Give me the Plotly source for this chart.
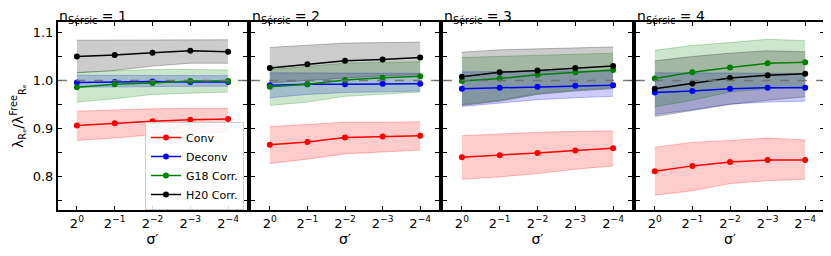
import plotly.graph_objects as go
from plotly.subplots import make_subplots

x_labels = ["2<sup>0</sup>", "2<sup>\u22121</sup>", "2<sup>\u22122</sup>", "2<sup>\u22123</sup>", "2<sup>\u22124</sup>"]
x_idx = [0, 1, 2, 3, 4]
n_sersic = [1, 2, 3, 4]

# panel n=1
conv_1 = [0.906, 0.911, 0.915, 0.918, 0.920]
conv_1_hi = [0.936, 0.939, 0.941, 0.942, 0.942]
conv_1_lo = [0.875, 0.880, 0.887, 0.890, 0.892]
deconv_1 = [0.996, 0.997, 0.998, 0.997, 0.997]
deconv_1_hi = [1.011, 1.011, 1.010, 1.010, 1.010]
deconv_1_lo = [0.986, 0.987, 0.988, 0.988, 0.988]
g18_1 = [0.986, 0.992, 0.995, 0.999, 0.999]
g18_1_hi = [1.017, 1.020, 1.023, 1.023, 1.022]
g18_1_lo = [0.955, 0.962, 0.971, 0.974, 0.976]
h20_1 = [1.050, 1.053, 1.058, 1.062, 1.060]
h20_1_hi = [1.084, 1.084, 1.085, 1.085, 1.085]
h20_1_lo = [1.016, 1.021, 1.030, 1.036, 1.036]

# panel n=2
conv_2 = [0.866, 0.872, 0.881, 0.883, 0.885]
conv_2_hi = [0.904, 0.909, 0.913, 0.913, 0.914]
conv_2_lo = [0.827, 0.836, 0.847, 0.851, 0.855]
deconv_2 = [0.990, 0.992, 0.992, 0.993, 0.993]
deconv_2_hi = [1.016, 1.016, 1.015, 1.015, 1.015]
deconv_2_lo = [0.964, 0.971, 0.975, 0.977, 0.978]
g18_2 = [0.987, 0.992, 1.001, 1.006, 1.009]
g18_2_hi = [1.023, 1.030, 1.036, 1.038, 1.039]
g18_2_lo = [0.948, 0.955, 0.967, 0.972, 0.976]
h20_2 = [1.026, 1.034, 1.041, 1.044, 1.048]
h20_2_hi = [1.069, 1.074, 1.078, 1.079, 1.080]
h20_2_lo = [0.995, 1.000, 1.005, 1.010, 1.012]

# panel n=3
conv_3 = [0.840, 0.844, 0.849, 0.854, 0.859]
conv_3_hi = [0.885, 0.889, 0.892, 0.894, 0.895]
conv_3_lo = [0.794, 0.799, 0.806, 0.815, 0.822]
deconv_3 = [0.983, 0.985, 0.987, 0.989, 0.990]
deconv_3_hi = [1.018, 1.019, 1.020, 1.020, 1.020]
deconv_3_lo = [0.946, 0.953, 0.960, 0.964, 0.967]
g18_3 = [0.999, 1.004, 1.012, 1.017, 1.022]
g18_3_hi = [1.048, 1.050, 1.053, 1.055, 1.057]
g18_3_lo = [0.950, 0.959, 0.973, 0.980, 0.985]
h20_3 = [1.008, 1.017, 1.021, 1.026, 1.030]
h20_3_hi = [1.059, 1.064, 1.066, 1.068, 1.070]
h20_3_lo = [0.948, 0.957, 0.971, 0.978, 0.983]

# panel n=4
conv_4 = [0.811, 0.822, 0.830, 0.834, 0.834]
conv_4_hi = [0.861, 0.871, 0.875, 0.880, 0.876]
conv_4_lo = [0.761, 0.770, 0.785, 0.791, 0.794]
deconv_4 = [0.975, 0.978, 0.983, 0.985, 0.985]
deconv_4_hi = [1.016, 1.016, 1.015, 1.015, 1.015]
deconv_4_lo = [0.929, 0.939, 0.951, 0.955, 0.957]
g18_4 = [1.004, 1.017, 1.027, 1.036, 1.038]
g18_4_hi = [1.063, 1.073, 1.079, 1.086, 1.083]
g18_4_lo = [0.945, 0.959, 0.976, 0.983, 0.987]
h20_4 = [0.983, 0.994, 1.005, 1.011, 1.014]
h20_4_hi = [1.041, 1.050, 1.057, 1.062, 1.060]
h20_4_lo = [0.925, 0.937, 0.950, 0.959, 0.966]

series_names = ["Conv", "Deconv", "G18 Corr.", "H20 Corr."]
series_colors = ["255,0,0", "0,0,255", "0,128,0", "0,0,0"]

panels = [
    [(conv_1, conv_1_hi, conv_1_lo), (deconv_1, deconv_1_hi, deconv_1_lo), (g18_1, g18_1_hi, g18_1_lo), (h20_1, h20_1_hi, h20_1_lo)],
    [(conv_2, conv_2_hi, conv_2_lo), (deconv_2, deconv_2_hi, deconv_2_lo), (g18_2, g18_2_hi, g18_2_lo), (h20_2, h20_2_hi, h20_2_lo)],
    [(conv_3, conv_3_hi, conv_3_lo), (deconv_3, deconv_3_hi, deconv_3_lo), (g18_3, g18_3_hi, g18_3_lo), (h20_3, h20_3_hi, h20_3_lo)],
    [(conv_4, conv_4_hi, conv_4_lo), (deconv_4, deconv_4_hi, deconv_4_lo), (g18_4, g18_4_hi, g18_4_lo), (h20_4, h20_4_hi, h20_4_lo)],
]

y_tickvals = [0.75, 0.80, 0.85, 0.90, 0.95, 1.00, 1.05, 1.10]
y_ticktext = ["", "0.8", "", "0.9", "", "1.0", "", "1.1"]

# page body has an 8px margin: figure is drawn 8px smaller and offset
OFF = 8
W, H = 831 - OFF, 256 - OFF
ML, MR, MT, MB = 58 - OFF, 7, 22 - OFF, 46
PW = W - ML - MR
PH = H - MT - MB
panel_px = [(58, 247), (251, 439), (443, 632), (636, 824)]
domains = [[(a - 58) / PW, (b - 58) / PW] for a, b in panel_px]

fig = make_subplots(rows=1, cols=4, horizontal_spacing=0.005)
FONT = "DejaVu Sans"

for p, pdata in enumerate(panels):
    col = p + 1
    for s, (mid, hi, lo) in enumerate(pdata):
        c = series_colors[s]
        fig.add_trace(go.Scatter(x=x_idx, y=hi, mode="lines",
                                 line=dict(color=f"rgba({c},0.25)", width=1),
                                 showlegend=False, hoverinfo="skip"), row=1, col=col)
        fig.add_trace(go.Scatter(x=x_idx, y=lo, mode="lines", fill="tonexty",
                                 fillcolor=f"rgba({c},0.2)",
                                 line=dict(color=f"rgba({c},0.25)", width=1),
                                 showlegend=False, hoverinfo="skip"), row=1, col=col)
    fig.add_shape(type="line", xref=f"x{'' if col == 1 else col} domain", yref=f"y{'' if col == 1 else col}",
                  x0=0, x1=1, y0=1.0, y1=1.0,
                  line=dict(color="rgba(110,110,110,0.9)", width=1.3, dash="dash"))
    for s, (mid, hi, lo) in enumerate(pdata):
        c = series_colors[s]
        fig.add_trace(go.Scatter(x=x_idx, y=mid, mode="lines+markers", name=series_names[s],
                                 line=dict(color=f"rgb({c})", width=1.5),
                                 marker=dict(color=f"rgb({c})", size=6),
                                 showlegend=(p == 0)), row=1, col=col)

    fig.update_xaxes(domain=domains[p], range=[-0.5, 4.5], tickvals=x_idx, ticktext=x_labels,
                     ticks="inside", ticklen=4, tickwidth=1.3, tickcolor="black",
                     showline=True, linecolor="black", linewidth=2, mirror="ticks",
                     showgrid=False, zeroline=False, automargin=False,
                     tickfont=dict(family=FONT, size=13, color="black"),
                     title=dict(text="\u03c3\u2032", font=dict(family=FONT, size=14, color="black"), standoff=5),
                     row=1, col=col)
    fig.update_yaxes(range=[0.73, 1.122], tickvals=y_tickvals, ticktext=y_ticktext,
                     ticks="inside", ticklen=4, tickwidth=1.3, tickcolor="black",
                     showline=True, linecolor="black", linewidth=2, mirror="ticks",
                     showgrid=False, zeroline=False, showticklabels=(p == 0), automargin=False,
                     tickfont=dict(family=FONT, size=13, color="black"),
                     row=1, col=col)
    fig.add_annotation(text=f"n<sub>S\u00e9rsic</sub> = {n_sersic[p]}", xref="paper", yref="paper",
                       x=domains[p][0], y=1.0, xanchor="left", yanchor="bottom", showarrow=False,
                       yshift=-5, borderpad=0, font=dict(family=FONT, size=14, color="black"))

fig.update_yaxes(title=dict(text="\u03bb<sub>R\u2091</sub>/\u03bb<sup>Free</sup><sub>R\u2091</sub>",
                            font=dict(family=FONT, size=14, color="black"), standoff=6), row=1, col=1)

fig.update_layout(
    width=W, height=H,
    margin=dict(l=ML, r=MR, t=MT, b=MB),
    paper_bgcolor="white", plot_bgcolor="white",
    font=dict(family=FONT, color="black"),
    legend=dict(x=(244 - 58) / PW, y=0.0, xanchor="right", yanchor="bottom",
                traceorder="normal", itemwidth=30,
                bgcolor="rgba(255,255,255,0.85)", bordercolor="#cccccc", borderwidth=1,
                font=dict(family=FONT, size=11, color="black"), tracegroupgap=0),
)

fig.write_html("out.html")
